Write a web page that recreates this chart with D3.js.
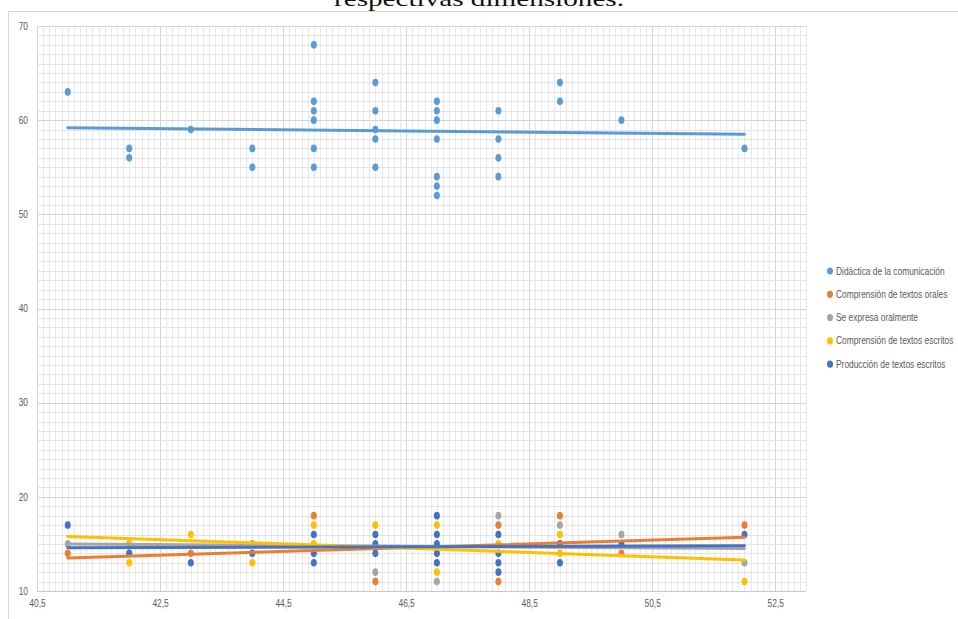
<!DOCTYPE html>
<html>
<head>
<meta charset="utf-8">
<script src="https://cdn.jsdelivr.net/npm/d3@7"></script>
<style>
  html, body { margin: 0; padding: 0; background: #fff; overflow: hidden; }
  svg { display: block; }
</style>
</head>
<body>
<svg id="chart" width="958" height="619"></svg>
<script>
// ---------- DATA ----------
const seriesNames = [
  "Didáctica de la comunicación",
  "Comprensión de textos orales",
  "Se expresa oralmente",
  "Comprensión de textos escritos",
  "Producción de textos escritos"
];
const seriesColors = ["#5B9BD5", "#ED7D31", "#A5A5A5", "#FFC000", "#4472C4"];

const didactica = [
  [41, 63], [42, 57], [42, 56], [43, 59], [44, 57], [44, 55],
  [45, 68], [45, 62], [45, 61], [45, 60], [45, 57], [45, 55],
  [46, 64], [46, 61], [46, 59], [46, 58], [46, 55],
  [47, 62], [47, 61], [47, 60], [47, 58], [47, 54], [47, 53], [47, 52],
  [48, 61], [48, 58], [48, 56], [48, 54],
  [49, 64], [49, 62], [50, 60], [52, 57]
];
const orales = [
  [41, 14], [42, 14], [43, 14], [45, 18], [46, 11], [48, 17], [48, 11],
  [49, 18], [50, 14], [52, 17]
];
const oralmente = [
  [41, 15], [42, 15], [44, 15], [46, 12], [47, 11], [48, 18], [49, 17],
  [50, 16], [52, 13]
];
const escritos = [
  [42, 15], [42, 13], [43, 16], [44, 13], [45, 17], [45, 15], [46, 17],
  [47, 17], [47, 12], [48, 15], [49, 16], [49, 14], [52, 11]
];
const produccion = [
  [41, 17], [42, 14], [43, 13], [44, 14], [45, 16], [45, 14], [45, 13],
  [46, 16], [46, 15], [46, 14], [47, 18], [47, 16], [47, 15], [47, 14], [47, 13],
  [48, 16], [48, 14], [48, 13], [48, 12], [49, 15], [49, 13], [50, 15], [52, 16]
];
const seriesData = [didactica, orales, oralmente, escritos, produccion];

// linear trend lines: value at start and end x
const trendX = [41, 52];
const trendDidactica = [59.2, 58.5];
const trendOrales = [13.5, 15.7];
const trendOralmente = [15.0, 14.5];
const trendEscritos = [15.8, 13.3];
const trendProduccion = [14.6, 14.8];
const trends = [trendDidactica, trendOrales, trendOralmente, trendEscritos, trendProduccion];

const xTicks = [40.5, 42.5, 44.5, 46.5, 48.5, 50.5, 52.5];
const yTicks = [10, 20, 30, 40, 50, 60, 70];
const captionText = "respectivas dimensiones.";

// ---------- DRAW ----------
const svg = d3.select("#chart");
const x = d3.scaleLinear().domain([40.5, 53]).range([37, 806]);
const y = d3.scaleLinear().domain([10, 70]).range([591, 26]);

const labelFont = "'Liberation Sans', Arial, sans-serif";
const squeeze = 0.84;

// caption (cut at top, as in the source)
svg.append("text")
  .attr("x", 479).attr("y", 6)
  .attr("text-anchor", "middle")
  .attr("font-family", "'Liberation Serif', 'Times New Roman', serif")
  .attr("font-size", 22)
  .attr("fill", "#111")
  .attr("textLength", 290)
  .attr("lengthAdjust", "spacingAndGlyphs")
  .text(captionText);

// chart frame
svg.append("rect")
  .attr("x", 8.5).attr("y", 11.5)
  .attr("width", 1000).attr("height", 700)
  .attr("fill", "none").attr("stroke", "#d9d9d9").attr("stroke-width", 1);

// grid
const grid = svg.append("g");
const xMinor = d3.range(0, 126).map(i => 40.5 + i * 0.1);
const yMinor = d3.range(10, 71, 1);
grid.selectAll("line.vx").data(xMinor).join("line")
  .attr("x1", d => Math.round(x(d)) + 0.5).attr("x2", d => Math.round(x(d)) + 0.5)
  .attr("y1", y(70)).attr("y2", y(10))
  .attr("stroke", (d, i) => i % 20 === 0 ? "#d4d4d4" : "#e8e8e8")
  .attr("stroke-width", 1);
grid.selectAll("line.hy").data(yMinor).join("line")
  .attr("y1", d => Math.round(y(d)) + 0.5).attr("y2", d => Math.round(y(d)) + 0.5)
  .attr("x1", x(40.5)).attr("x2", x(53))
  .attr("stroke", d => d % 10 === 0 ? "#d4d4d4" : "#e3e3e3")
  .attr("stroke-width", 1);

// bottom axis line
svg.append("line")
  .attr("x1", x(40.5)).attr("x2", x(53))
  .attr("y1", Math.round(y(10)) + 0.5).attr("y2", Math.round(y(10)) + 0.5)
  .attr("stroke", "#c8c8c8");

// axes
const fmt = d => String(d).replace(".", ",");
const xAxis = svg.append("g")
  .attr("transform", `translate(0,${y(10) + 6})`)
  .call(d3.axisBottom(x).tickValues(xTicks).tickFormat(fmt).tickSize(0));
xAxis.select(".domain").remove();
xAxis.selectAll("text")
  .attr("font-family", labelFont).attr("font-size", 10).attr("fill", "#595959")
  .attr("transform", `scale(${squeeze},1)`);

const yAxis = svg.append("g")
  .attr("transform", `translate(28,0)`)
  .call(d3.axisLeft(y).tickValues(yTicks).tickSize(0).tickPadding(0));
yAxis.select(".domain").remove();
yAxis.selectAll("text")
  .attr("font-family", labelFont).attr("font-size", 10).attr("fill", "#595959")
  .attr("transform", `scale(${squeeze},1)`);

// points
seriesData.forEach((data, si) => {
  svg.append("g").selectAll("ellipse").data(data).join("ellipse")
    .attr("cx", d => x(d[0])).attr("cy", d => y(d[1]))
    .attr("rx", 3).attr("ry", 3.8)
    .attr("fill", seriesColors[si]);
});

// trend lines
const line = d3.line().x(d => x(d[0])).y(d => y(d[1]));
trends.forEach((t, si) => {
  svg.append("path")
    .attr("d", line(trendX.map((xv, i) => [xv, t[i]])))
    .attr("fill", "none")
    .attr("stroke", seriesColors[si])
    .attr("stroke-width", 3)
    .attr("stroke-linecap", "round");
});

// legend
const legend = svg.append("g").attr("transform", "translate(830,271)");
seriesNames.forEach((name, i) => {
  const g = legend.append("g").attr("transform", `translate(0,${i * 23.3})`);
  g.append("ellipse").attr("cx", 0).attr("cy", 0).attr("rx", 3).attr("ry", 3.6)
    .attr("fill", seriesColors[i]);
  g.append("text").attr("x", 6 / squeeze).attr("y", 3.5)
    .attr("transform", `scale(${squeeze},1)`)
    .attr("font-family", labelFont).attr("font-size", 10).attr("fill", "#595959")
    .text(name);
});
</script>
</body>
</html>
